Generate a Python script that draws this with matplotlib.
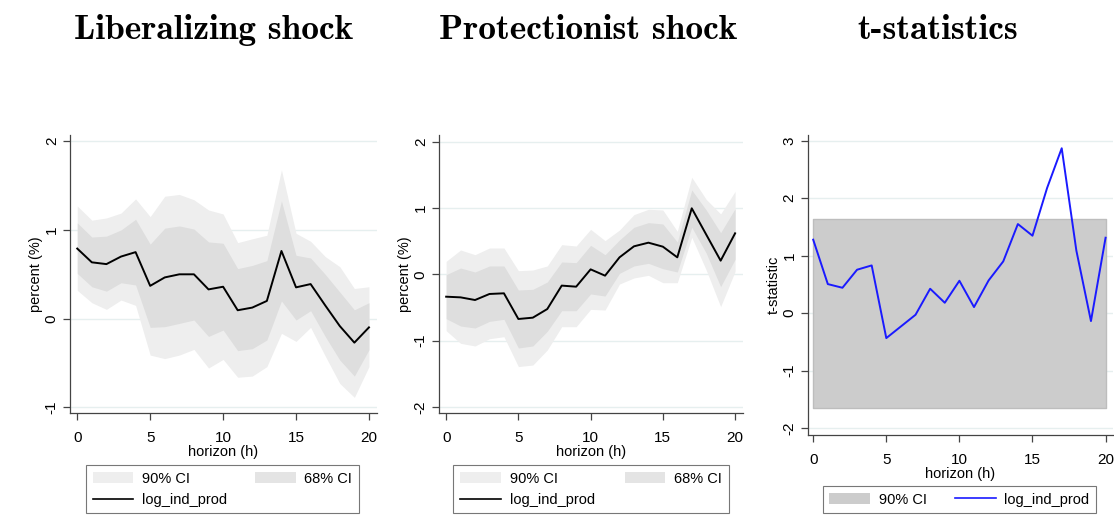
import os
import matplotlib
matplotlib.use("Agg")
import matplotlib.pyplot as plt
from matplotlib.font_manager import FontProperties
from matplotlib.patches import Patch
from matplotlib.lines import Line2D

plt.rcParams['font.family'] = ['Liberation Sans', 'DejaVu Sans']
plt.rcParams['axes.unicode_minus'] = False

# horizons
h = list(range(21))

# Liberalizing shock
lib_irf = [0.79, 0.635, 0.615, 0.70, 0.75, 0.37, 0.465, 0.50, 0.50, 0.33, 0.36,
           0.095, 0.125, 0.20, 0.763, 0.353, 0.39, 0.15, -0.083, -0.27, -0.098]
lib_hi68 = [1.08, 0.92, 0.93, 1.0, 1.12, 0.84, 1.02, 1.045, 1.01, 0.865, 0.85,
            0.564, 0.60, 0.654, 1.327, 0.714, 0.684, 0.50, 0.30, 0.10, 0.18]
lib_lo68 = [0.51, 0.36, 0.31, 0.405, 0.38, -0.098, -0.09, -0.053, -0.015, -0.2, -0.128,
            -0.36, -0.338, -0.24, 0.2, -0.015, 0.09, -0.2, -0.466, -0.647, -0.35]
lib_hi90 = [1.27, 1.11, 1.135, 1.19, 1.35, 1.15, 1.38, 1.40, 1.34, 1.225, 1.18,
            0.857, 0.90, 0.94, 1.677, 0.962, 0.872, 0.70, 0.586, 0.34, 0.36]
lib_lo90 = [0.32, 0.18, 0.105, 0.21, 0.15, -0.41, -0.45, -0.41, -0.346, -0.556, -0.459,
            -0.66, -0.647, -0.54, -0.165, -0.256, -0.098, -0.42, -0.73, -0.887, -0.54]

# Protectionist shock
pro_irf = [-0.337, -0.347, -0.387, -0.296, -0.286, -0.673, -0.653, -0.523, -0.17, -0.186, 0.075,
           -0.02, 0.256, 0.422, 0.477, 0.417, 0.256, 0.995, 0.60, 0.206, 0.618]
pro_hi68 = [-0.005, 0.095, 0.035, 0.126, 0.126, -0.236, -0.226, -0.116, 0.186, 0.176, 0.437,
            0.296, 0.518, 0.709, 0.779, 0.759, 0.487, 1.271, 0.97, 0.628, 0.99]
pro_lo68 = [-0.668, -0.779, -0.809, -0.709, -0.678, -1.11, -1.08, -0.859, -0.548, -0.548, -0.296,
            -0.327, 0.015, 0.126, 0.166, 0.085, 0.035, 0.709, 0.32, -0.186, 0.226]
pro_hi90 = [0.196, 0.367, 0.296, 0.397, 0.397, 0.055, 0.065, 0.126, 0.447, 0.427, 0.678,
            0.508, 0.668, 0.90, 0.98, 0.97, 0.648, 1.462, 1.13, 0.91, 1.25]
pro_lo90 = [-0.849, -1.04, -1.08, -0.97, -0.94, -1.39, -1.367, -1.14, -0.789, -0.789, -0.528,
            -0.538, -0.146, -0.055, -0.015, -0.126, -0.126, 0.558, 0.065, -0.487, 0.045]

# t-statistics
tstat = [1.278, 0.505, 0.441, 0.755, 0.83, -0.435, -0.232, -0.029, 0.424, 0.18, 0.563,
         0.105, 0.569, 0.90, 1.55, 1.347, 2.178, 2.869, 1.09, -0.139, 1.312]
t_crit = 1.645

titles = ["Liberalizing shock", "Protectionist shock", "t-statistics"]

c90 = '#eeeeee'
c68 = '#dedede'
grid_c = '#e6efef'
spine_c = '#444444'

fig = plt.figure(figsize=(11.14, 5.24), dpi=100)


def style(ax, yticks):
    for s in ['top', 'right']:
        ax.spines[s].set_visible(False)
    for s in ['left', 'bottom']:
        ax.spines[s].set_color(spine_c)
        ax.spines[s].set_linewidth(0.9)
    ax.set_xticks([0, 5, 10, 15, 20])
    ax.set_yticks(yticks)
    ax.set_yticklabels([str(v) for v in yticks], rotation=90, va='center')
    ax.tick_params(direction='out', length=5, color=spine_c, labelsize=11, width=0.9)
    ax.tick_params(axis='x', pad=8)
    ax.tick_params(axis='y', pad=3)
    ax.yaxis.grid(True, color=grid_c, lw=1.0)
    ax.set_axisbelow(True)
    ax.set_xlabel("horizon (h)", fontsize=10.5, labelpad=0)


def make_legend(handles, labels, rect):
    leg = fig.legend(handles, labels, loc='upper left', bbox_to_anchor=rect,
                     mode='expand', ncol=2, fontsize=10.5, handlelength=2.8,
                     handletextpad=0.6, labelspacing=0.5, borderaxespad=0,
                     fancybox=False, framealpha=1, borderpad=0.45)
    leg.get_frame().set_edgecolor('#777777')
    leg.get_frame().set_linewidth(0.8)


def irf_panel(rect, irf, lo90, hi90, lo68, hi68, ylim, yticks, leg_rect):
    ax = fig.add_axes(rect)
    ax.fill_between(h, lo90, hi90, color=c90, lw=0)
    ax.fill_between(h, lo68, hi68, color=c68, lw=0)
    ax.plot(h, irf, color='black', lw=1.4)
    ax.set_xlim(-0.5, 20.55)
    ax.set_ylim(*ylim)
    style(ax, yticks)
    ax.set_ylabel("percent (%)", fontsize=10.5, labelpad=1)
    handles = [Patch(facecolor=c90, edgecolor='none'),
               Line2D([], [], color='black', lw=1.2),
               Patch(facecolor='#e4e4e4', edgecolor='none')]
    make_legend(handles, ["90% CI", "log_ind_prod", "68% CI"], leg_rect)
    return ax


irf_panel([0.0628, 0.2118, 0.2756, 0.5306], lib_irf, lib_lo90, lib_hi90, lib_lo68, lib_hi68,
          (-1.063, 2.07), [-1, 0, 1, 2], (0.0772, 0.0, 0.245, 0.1126))
irf_panel([0.394, 0.2118, 0.273, 0.5306], pro_irf, pro_lo90, pro_hi90, pro_lo68, pro_hi68,
          (-2.09, 2.10), [-2, -1, 0, 1, 2], (0.407, 0.0, 0.247, 0.1126))

ax3 = fig.add_axes([0.725, 0.170, 0.274, 0.5724])
ax3.fill_between([h[0], h[-1]], [-t_crit, -t_crit], [t_crit, t_crit],
                 facecolor='#cccccc', edgecolor='#bdbdbd', lw=1)
ax3.plot(h, tstat, color='#1a1aff', lw=1.4)
ax3.set_xlim(-0.38, 20.5)
ax3.set_ylim(-2.12, 3.1)
style(ax3, [-2, -1, 0, 1, 2, 3])
ax3.set_ylabel("t-statistic", fontsize=10.5, labelpad=1)
make_legend([Patch(facecolor='#cccccc', edgecolor='none'),
             Line2D([], [], color='#1a1aff', lw=1.2)],
            ["90% CI", "log_ind_prod"], (0.7385, 0.0, 0.2453, 0.0725))

# titles in a bold Computer Modern face
cm_path = os.path.join(matplotlib.get_data_path(), 'fonts', 'ttf', 'cmb10.ttf')
tfont = FontProperties(fname=cm_path, size=25.5)
for x, t in zip([214 / 1114, 588 / 1114, 938 / 1114], titles):
    fig.text(x, 1 - 39 / 524, t, fontproperties=tfont, ha='center', va='baseline')

fig.savefig("out.png", dpi=100)
